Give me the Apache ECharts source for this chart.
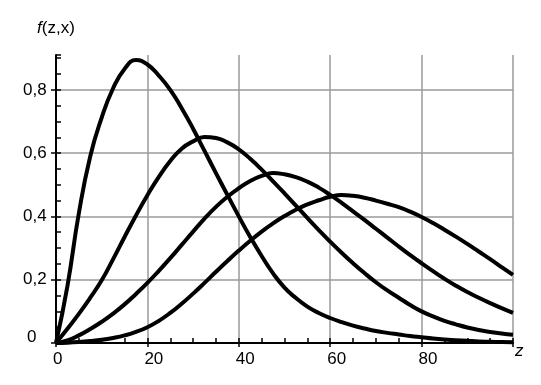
<!DOCTYPE html>
<html>
<head>
<meta charset="utf-8">
<script src="https://cdn.jsdelivr.net/npm/echarts@6/dist/echarts.min.js"></script>
<style>
html,body{margin:0;padding:0;background:#fff;}
#chart{width:541px;height:385px;}
</style>
</head>
<body>
<div id="chart"></div>
<script>
// ---- data ----
const zValues = [0,2.5,5,7.5,10,12.5,15,17.5,20,22.5,25,27.5,30,32.5,35,37.5,40,42.5,45,47.5,50,52.5,55,57.5,60,62.5,65,67.5,70,72.5,75,77.5,80,82.5,85,87.5,90,92.5,95,97.5,100];
const curve1 = [0,0.18,0.41,0.59,0.712,0.805,0.866,0.894,0.880,0.845,0.80,0.742,0.677,0.607,0.537,0.468,0.40,0.335,0.275,0.22,0.175,0.142,0.115,0.095,0.079,0.066,0.055,0.046,0.038,0.032,0.027,0.022,0.018,0.014,0.011,0.009,0.007,0.005,0.004,0.003,0.002];
const curve2 = [0,0.045,0.092,0.143,0.198,0.265,0.335,0.403,0.467,0.525,0.575,0.614,0.637,0.651,0.648,0.634,0.612,0.582,0.548,0.511,0.473,0.434,0.395,0.357,0.32,0.285,0.252,0.221,0.192,0.166,0.143,0.12,0.1,0.084,0.07,0.059,0.049,0.041,0.035,0.03,0.026];
const curve3 = [0,0.008,0.024,0.044,0.067,0.093,0.122,0.155,0.19,0.228,0.268,0.31,0.352,0.393,0.43,0.462,0.489,0.512,0.528,0.537,0.533,0.524,0.510,0.491,0.468,0.443,0.416,0.389,0.361,0.333,0.305,0.278,0.252,0.227,0.203,0.181,0.161,0.143,0.126,0.11,0.095];
const curve4 = [0,0.001,0.003,0.006,0.010,0.016,0.024,0.035,0.050,0.070,0.095,0.124,0.156,0.190,0.225,0.259,0.292,0.323,0.352,0.378,0.401,0.421,0.438,0.451,0.462,0.468,0.465,0.459,0.450,0.440,0.429,0.415,0.398,0.379,0.358,0.336,0.313,0.289,0.265,0.240,0.215];
const xTickValues = [0,20,40,60,80];
const xTickLabels = ['0','20','40','60','80'];
const yTickValues = [0,0.2,0.4,0.6,0.8];
const yTickLabels = ['0','0,2','0,4','0,6','0,8'];
const xAxisName = 'z';

const FONT = '"Liberation Sans", Arial, sans-serif';
const T = 'rgba(0,0,0,0)';
const GRID_COLOR = '#9a9a9a';

function lookup(v, vals, labels) {
  for (let i = 0; i < vals.length; i++) {
    if (Math.abs(v - vals[i]) < 1e-6) return labels[i];
  }
  return '';
}

function mk(curve) {
  return {
    type: 'line',
    xAxisIndex: 0, yAxisIndex: 0,
    data: zValues.map((z, i) => [z, curve[i]]),
    smooth: 0.5,
    showSymbol: false,
    symbol: 'none',
    silent: true,
    lineStyle: { color: '#000', width: 4 },
    z: 5
  };
}

const chart = echarts.init(document.getElementById('chart'), null, { renderer: 'canvas' });
chart.setOption({
  animation: false,
  backgroundColor: '#fff',
  grid: [
    { left: 56, right: 28, top: 55, bottom: 42, outerBoundsMode: 'none', containLabel: false },
    { left: 56, right: 28, top: 89.8, bottom: 42, outerBoundsMode: 'none', containLabel: false }
  ],
  xAxis: [
    {
      gridIndex: 0, type: 'value', min: 0, max: 100, interval: 5,
      axisLine: { show: true, onZero: false, lineStyle: { color: '#000', width: 2 } },
      axisTick: { show: true, inside: true, length: 5, lineStyle: { color: '#000', width: 1.5 } },
      axisLabel: {
        show: true, margin: 8, align: 'left', color: '#000', fontSize: 17, fontFamily: FONT,
        padding: [0, 0, 0, -3],
        formatter: v => lookup(v, xTickValues, xTickLabels)
      },
      splitLine: { show: true, lineStyle: { color: [GRID_COLOR, T, T, T], width: 1.5 } },
      name: xAxisName, nameLocation: 'end', nameGap: 2,
      nameTextStyle: { fontStyle: 'italic', fontSize: 17, fontFamily: FONT, color: '#000', verticalAlign: 'top', align: 'left' }
    },
    {
      gridIndex: 0, type: 'value', min: 0, max: 100, interval: 20, position: 'bottom',
      axisLine: { show: false },
      axisTick: { show: true, inside: false, length: 4, lineStyle: { color: '#000', width: 1.5 } },
      axisLabel: { show: false },
      splitLine: { show: false }
    },
    { gridIndex: 1, type: 'value', min: 0, max: 100, show: false }
  ],
  yAxis: [
    {
      gridIndex: 0, type: 'value', min: 0, max: 0.91, interval: 0.05,
      axisLine: { show: true, onZero: false, lineStyle: { color: '#000', width: 2 } },
      axisTick: { show: true, inside: true, length: 5, lineStyle: { color: '#000', width: 1.5 } },
      axisLabel: {
        show: true, margin: 33, align: 'left', color: '#000', fontSize: 17, fontFamily: FONT,
        formatter: v => {
          const s = lookup(v, yTickValues, yTickLabels);
          if (s === '0') return '{zero|0}';
          return s;
        },
        rich: { zero: { fontSize: 17, fontFamily: FONT, color: '#000', padding: [0, 0, 11, 4] } }
      },
      splitLine: { show: true, lineStyle: { color: [GRID_COLOR, T, T, T], width: 1.5 } },
      name: '{i|f}(z,x)', nameLocation: 'end', nameGap: 18,
      nameTextStyle: {
        fontSize: 17, fontFamily: FONT, color: '#000', align: 'center',
        rich: { i: { fontStyle: 'italic', fontSize: 17, fontFamily: FONT, color: '#000' } }
      }
    },
    {
      gridIndex: 1, type: 'value', min: 0, max: 0.8, interval: 0.2,
      axisLine: { show: false },
      axisTick: { show: true, inside: false, length: 5, lineStyle: { color: '#000', width: 1.5 } },
      axisLabel: { show: false },
      splitLine: { show: false }
    }
  ],
  series: [mk(curve1), mk(curve2), mk(curve3), mk(curve4)]
});
</script>
</body>
</html>
